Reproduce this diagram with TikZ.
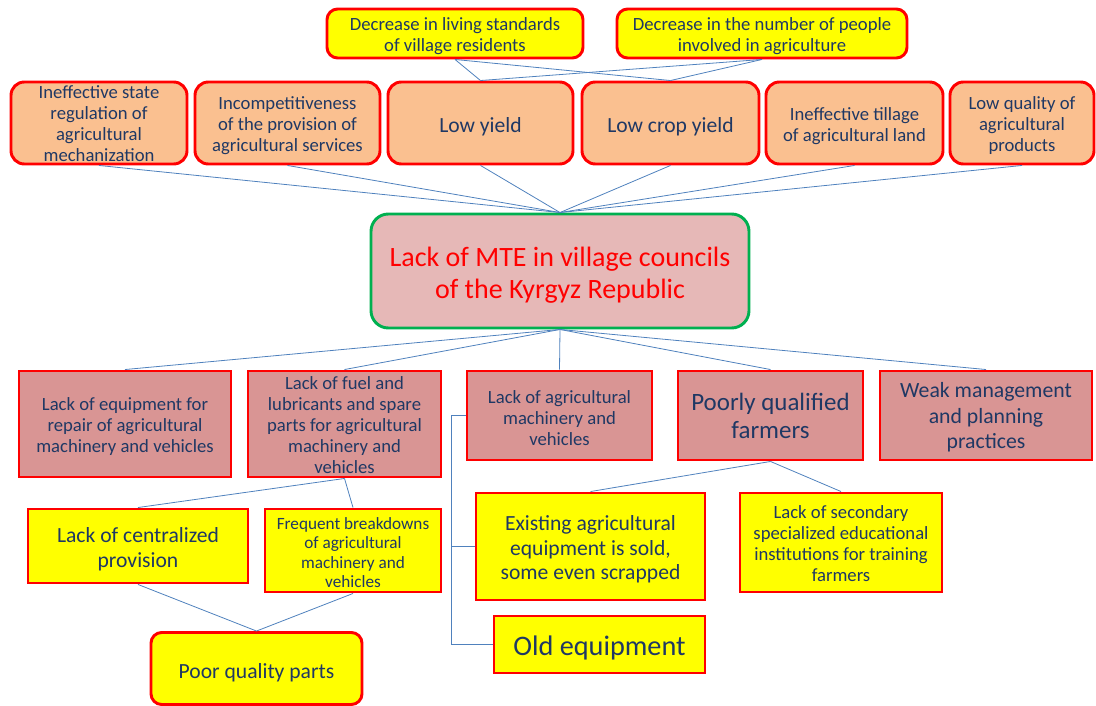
\documentclass[tikz,border=0pt]{standalone}
\usepackage{fontspec}
\setmainfont{Carlito}
\definecolor{navy}{HTML}{1F3864}
\definecolor{borderred}{HTML}{FF0000}
\definecolor{orangefill}{HTML}{FAC090}
\definecolor{pinkfill}{HTML}{D99594}
\definecolor{centerfill}{HTML}{E6B8B7}
\definecolor{greenborder}{HTML}{00B050}
\definecolor{linkblue}{HTML}{4F81BD}
\definecolor{yellowfill}{HTML}{FFFF00}
\tikzset{
  box/.style={draw=borderred, line width=2.2pt, align=center, text=navy, inner sep=1pt},
  ybox/.style={box, fill=yellowfill},
  yround/.style={ybox, rounded corners=8pt},
  obox/.style={box, fill=orangefill, rounded corners=10pt},
  pbox/.style={box, fill=pinkfill},
  cbox/.style={draw=greenborder, line width=2.2pt, fill=centerfill, rounded corners=13pt, align=center, text=borderred},
  txt/.style={draw=none, fill=none},
  link/.style={draw=linkblue, line width=0.6pt},
  fs/.style={font=\fontsize{14}{15.75}\selectfont},
  fm/.style={font=\fontsize{16.2}{18.5}\selectfont},
}
% #1 style, #2 name, #3 position, #4 width, #5 height, #6 text shift, #7 text
\newcommand\bx[7]{%
  \node[#1, minimum width=#4, minimum height=#5] (#2) at (#3) {};
  \node[#1, txt, yshift=-#6] (#2-t) at (#3) {#7};}
\begin{document}
\begin{tikzpicture}[x=0.75pt, y=-0.75pt]
\useasboundingbox (0,0) rectangle (1096,706);
% top yellow
\bx{yround, fs}{y1}{455,33.5}{192pt}{36.75pt}{2.25pt}{Decrease in living standards\\of village residents}
\bx{yround, fs}{y2}{762,33.5}{217.5pt}{36.75pt}{2.25pt}{Decrease in the number of people\\involved in agriculture}
% orange row
\bx{obox, fs}{o1}{99,123}{132pt}{61.5pt}{0.75pt}{Ineffective state\\regulation of\\agricultural\\mechanization}
\bx{obox, fs}{o2}{287.5,123}{138.75pt}{61.5pt}{2.25pt}{Incompetitiveness\\of the provision of\\agricultural services}
\bx{obox, fm}{o3}{480.5,123}{138.75pt}{61.5pt}{3pt}{Low yield}
\bx{obox, fm}{o4}{670.5,123}{132.75pt}{61.5pt}{3pt}{Low crop yield}
\bx{obox, fs}{o5}{854.5,123}{132.75pt}{61.5pt}{2.25pt}{Ineffective tillage\\of agricultural land}
\bx{obox, fs}{o6}{1022,123}{108pt}{61.5pt}{2.25pt}{Low quality of\\agricultural\\products}
% center
\bx{cbox, font=\fontsize{21}{24}\selectfont}{c}{560,271}{283.5pt}{85.5pt}{3pt}{Lack of MTE in village councils\\of the Kyrgyz Republic}
% bottom row
\bx{pbox, fs}{b1}{125,424}{159pt}{79.5pt}{2.25pt}{Lack of equipment for\\repair of agricultural\\machinery and vehicles}
\bx{pbox, fs}{b2}{344.5,424}{144.75pt}{79.5pt}{0.75pt}{Lack of fuel and\\lubricants and spare\\parts for agricultural\\machinery and\\vehicles}
\bx{pbox, fs}{b3}{559.5,415.5}{138.75pt}{66.75pt}{2.25pt}{Lack of agricultural\\machinery and\\vehicles}
\bx{pbox, font=\fontsize{18.7}{21}\selectfont}{b4}{770.5,415.5}{138.75pt}{66.75pt}{0pt}{Poorly qualified\\farmers}
\bx{pbox, font=\fontsize{16.3}{19}\selectfont}{b5}{986,415.5}{159pt}{66.75pt}{1.5pt}{Weak management\\and planning\\practices}
% lower yellow
\bx{ybox, font=\fontsize{16.2}{18.75}\selectfont}{c1}{138,546}{165pt}{55.5pt}{2.25pt}{Lack of centralized\\provision}
\bx{ybox, font=\fontsize{12.9}{14.5}\selectfont}{c2}{353,550.5}{132pt}{62.25pt}{1.5pt}{Frequent breakdowns\\of agricultural\\machinery and\\vehicles}
\bx{yround, fm}{p}{256.5,668.5}{158.25pt}{54pt}{3pt}{Poor quality parts}
\bx{ybox, font=\fontsize{16.2}{18.4}\selectfont}{e1}{590.5,546.5}{171.75pt}{80.25pt}{2.25pt}{Existing agricultural\\equipment is sold,\\some even scrapped}
\bx{ybox, font=\fontsize{21.2}{24}\selectfont}{e2}{599.5,644.5}{158.25pt}{42.75pt}{2.25pt}{Old equipment}
\bx{ybox, fs}{f1}{841,542.5}{151.5pt}{74.25pt}{0.75pt}{Lack of secondary\\specialized educational\\institutions for training\\farmers}
% connectors top
\foreach \n in {o1,o2,o3,o4,o5,o6} \draw[link] (\n.south) -- (c.north);
\draw[link] (y1.south) -- (o3.north);
\draw[link] (y1.south) -- (o4.north);
\draw[link] (y2.south) -- (o3.north);
\draw[link] (y2.south) -- (o4.north);
% connectors bottom
\foreach \n in {b1,b2,b3,b4,b5} \draw[link] (c.south) -- (\n.north);
\draw[link] (b2.south) -- (c1.north);
\draw[link] (b2.south) -- (c2.north);
\draw[link] (c1.south) -- (p.north);
\draw[link] (c2.south) -- (p.north);
\draw[link] (b4.south) -- (e1.north);
\draw[link] (b4.south) -- (f1.north);
\coordinate (bus) at (451,415.5);
\draw[link] (b3.west) -- (bus) |- (e2.west);
\draw[link] (bus |- e1.west) -- (e1.west);
\end{tikzpicture}
\end{document}
